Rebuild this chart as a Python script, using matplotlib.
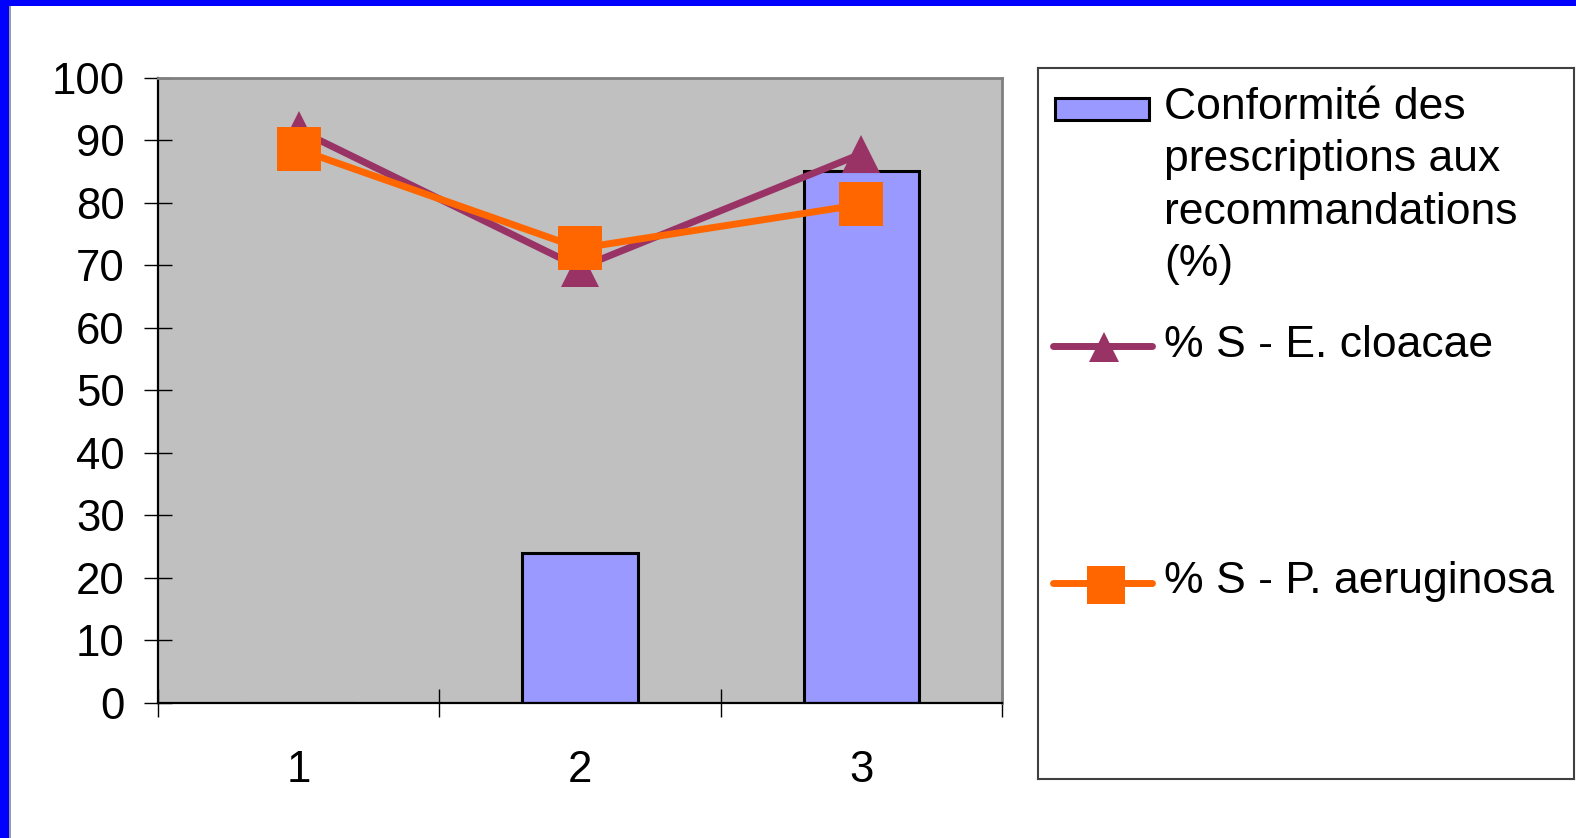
import matplotlib
matplotlib.use("Agg")
import matplotlib.pyplot as plt
from matplotlib.patches import Rectangle

plt.rcParams['font.family'] = ['Liberation Sans', 'DejaVu Sans']

# Data
categories = [1, 2, 3]
conformite = [0, 24, 85]
s_cloacae = [91.6, 69.6, 87.8]
s_aeruginosa = [88.5, 72.7, 79.7]
yticks = [0, 10, 20, 30, 40, 50, 60, 70, 80, 90, 100]

label_bar = "Conformité des\nprescriptions aux\nrecommandations\n(%)"
label_cloacae = "% S - E. cloacae"
label_aeruginosa = "% S - P. aeruginosa"

BAR_COLOR = '#9999FF'
PURPLE = '#993366'
ORANGE = '#FF6600'
PLOT_BG = '#C0C0C0'

W, H = 1576, 838
fig = plt.figure(figsize=(W / 100, H / 100), dpi=100)
fig.patch.set_facecolor('white')

# Frame: blue band on top and left
fig.patches.append(Rectangle((0, 1 - 6 / H), 1, 6 / H, transform=fig.transFigure,
                             facecolor='#0000FF', edgecolor='none', zorder=10))
fig.patches.append(Rectangle((0, 0), 9 / W, 1, transform=fig.transFigure,
                             facecolor='#0000FF', edgecolor='none', zorder=10))
fig.patches.append(Rectangle((9 / W, 0), 1.5 / W, 1 - 6 / H, transform=fig.transFigure,
                             facecolor='#9a9a9a', edgecolor='none', zorder=10))


def fig_rect(x0, y0, x1, y1):
    return [x0 / W, 1 - y1 / H, (x1 - x0) / W, (y1 - y0) / H]


ax = fig.add_axes(fig_rect(158, 77.5, 1002, 703))
ax.set_facecolor(PLOT_BG)

ax.bar(categories, conformite, width=0.41, color=BAR_COLOR, edgecolor='black',
       linewidth=2.2, zorder=2)
ax.plot(categories, s_cloacae, color=PURPLE, lw=5, marker='^', markersize=27,
        markeredgewidth=0, zorder=3)
ax.plot(categories, s_aeruginosa, color=ORANGE, lw=5, marker='s', markersize=32,
        markeredgewidth=0, zorder=4)

ax.set_xlim(0.5, 3.5)
ax.set_ylim(0, 100)
ax.set_yticks(yticks)
ax.set_yticklabels([str(v) for v in yticks])
ax.set_xticks(categories)
ax.set_xticklabels([str(c) for c in categories])
ax.set_xticks([0.5, 1.5, 2.5, 3.5], minor=True)

ax.tick_params(axis='y', which='major', direction='inout', length=20, width=1,
               labelsize=31.5, pad=14, colors='black')
ax.tick_params(axis='x', which='major', length=0, labelsize=31.5, pad=34)
ax.tick_params(axis='x', which='minor', direction='inout', length=20, width=1)

for side in ('left', 'bottom'):
    ax.spines[side].set_color('black')
    ax.spines[side].set_linewidth(1.6)
for side in ('top', 'right'):
    ax.spines[side].set_color('#808080')
    ax.spines[side].set_linewidth(2)

# Legend panel
lg = fig.add_axes(fig_rect(1038, 68, 1574, 779))
lg.set_xlim(1038, 1574)
lg.set_ylim(779, 68)
lg.set_xticks([])
lg.set_yticks([])
for s in lg.spines.values():
    s.set_color('#404040')
    s.set_linewidth(1.5)

lg.add_patch(Rectangle((1055, 98.5), 94, 22, facecolor=BAR_COLOR, edgecolor='black',
                       linewidth=2.2))
for i, line in enumerate(label_bar.split('\n')):
    lg.text(1164, 119 + i * 52.5, line, fontsize=32, va='baseline', ha='left')

lg.plot([1053, 1152], [346, 346], color=PURPLE, lw=5, solid_capstyle='round')
lg.plot([1104], [347], marker='^', markersize=22, color=PURPLE, markeredgewidth=0)
lg.text(1164, 357, label_cloacae, fontsize=32, va='baseline', ha='left')

lg.plot([1053, 1152], [583, 583], color=ORANGE, lw=5, solid_capstyle='round')
lg.plot([1106], [585], marker='s', markersize=27, color=ORANGE, markeredgewidth=0)
lg.text(1164, 593, label_aeruginosa, fontsize=32, va='baseline', ha='left')

fig.savefig('out.png', dpi=100)
